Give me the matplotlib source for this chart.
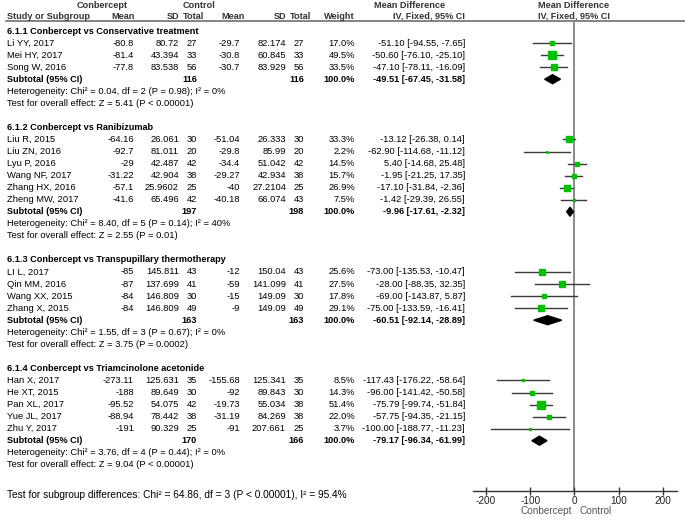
import matplotlib
matplotlib.use("Agg")

import matplotlib.pyplot as plt
from matplotlib.patches import Polygon

plt.rcParams["font.family"] = ["Liberation Sans", "DejaVu Sans"]

# Subgroups and studies
groups = [
    "6.1.1 Conbercept vs Conservative treatment",
    "6.1.2 Conbercept vs Ranibizumab",
    "6.1.3 Conbercept vs Transpupillary thermotherapy",
    "6.1.4 Conbercept vs Triamcinolone acetonide",
]

studies = [
    ["Li YY, 2017", "Mei HY, 2017", "Song W, 2016"],
    ["Liu R, 2015", "Liu ZN, 2016", "Lyu P, 2016", "Wang NF, 2017",
     "Zhang HX, 2016", "Zheng MW, 2017"],
    ["LI L, 2017", "Qin MM, 2016", "Wang XX, 2015", "Zhang X, 2015"],
    ["Han X, 2017", "He XT, 2015", "Pan XL, 2017", "Yue JL, 2017",
     "Zhu Y, 2017"],
]

exp_mean = [
    [-80.8, -81.4, -77.8],
    [-64.16, -92.7, -29, -31.22, -57.1, -41.6],
    [-85, -87, -84, -84],
    [-273.11, -188, -95.52, -88.94, -191],
]
exp_sd = [
    [80.72, 43.394, 83.538],
    [26.061, 81.011, 42.487, 42.904, 25.9602, 65.496],
    [145.811, 137.699, 146.809, 146.809],
    [125.631, 89.649, 54.075, 78.442, 90.329],
]
exp_n = [
    [27, 33, 56],
    [30, 20, 42, 38, 25, 42],
    [43, 41, 30, 49],
    [35, 30, 42, 38, 25],
]
ctl_mean = [
    [-29.7, -30.8, -30.7],
    [-51.04, -29.8, -34.4, -29.27, -40, -40.18],
    [-12, -59, -15, -9],
    [-155.68, -92, -19.73, -31.19, -91],
]
ctl_sd = [
    [82.174, 60.845, 83.929],
    [26.333, 85.99, 51.042, 42.934, 27.2104, 66.074],
    [150.04, 141.099, 149.09, 149.09],
    [125.341, 89.843, 55.034, 84.269, 207.661],
]
ctl_n = [
    [27, 33, 56],
    [30, 20, 42, 38, 25, 43],
    [43, 41, 30, 49],
    [35, 30, 38, 38, 25],
]
weights = [
    [17.0, 49.5, 33.5],
    [33.3, 2.2, 14.5, 15.7, 26.9, 7.5],
    [25.6, 27.5, 17.8, 29.1],
    [8.5, 14.3, 51.4, 22.0, 3.7],
]
md = [
    [-51.10, -50.60, -47.10],
    [-13.12, -62.90, 5.40, -1.95, -17.10, -1.42],
    [-73.00, -28.00, -69.00, -75.00],
    [-117.43, -96.00, -75.79, -57.75, -100.00],
]
md_lo = [
    [-94.55, -76.10, -78.11],
    [-26.38, -114.68, -14.68, -21.25, -31.84, -29.39],
    [-135.53, -88.35, -143.87, -133.59],
    [-176.22, -141.42, -99.74, -94.35, -188.77],
]
md_hi = [
    [-7.65, -25.10, -16.09],
    [0.14, -11.12, 25.48, 17.35, -2.36, 26.55],
    [-10.47, 32.35, 5.87, -16.41],
    [-58.64, -50.58, -51.84, -21.15, -11.23],
]

# Subtotals
sub_exp_n = [116, 197, 163, 170]
sub_ctl_n = [116, 198, 163, 166]
sub_md = [-49.51, -9.96, -60.51, -79.17]
sub_lo = [-67.45, -17.61, -92.14, -96.34]
sub_hi = [-31.58, -2.32, -28.89, -61.99]
heterogeneity = [
    "Heterogeneity: Chi\u00b2 = 0.04, df = 2 (P = 0.98); I\u00b2 = 0%",
    "Heterogeneity: Chi\u00b2 = 8.40, df = 5 (P = 0.14); I\u00b2 = 40%",
    "Heterogeneity: Chi\u00b2 = 1.55, df = 3 (P = 0.67); I\u00b2 = 0%",
    "Heterogeneity: Chi\u00b2 = 3.76, df = 4 (P = 0.44); I\u00b2 = 0%",
]
overall = [
    "Test for overall effect: Z = 5.41 (P < 0.00001)",
    "Test for overall effect: Z = 2.55 (P = 0.01)",
    "Test for overall effect: Z = 3.75 (P = 0.0002)",
    "Test for overall effect: Z = 9.04 (P < 0.00001)",
]
subgroup_test = ("Test for subgroup differences: Chi\u00b2 = 64.86, df = 3 "
                 "(P < 0.00001), I\u00b2 = 95.4%")

xticks = [-200, -100, 0, 100, 200]

# Layout (pixels)
W, H = 685, 522
Y0, ROW = 31, 12.05
FS = 6.75      # regular text
FSB = 6.6      # bold text
HEAD = "#333333"


def row_y(r):
    return Y0 + r * ROW


fig = plt.figure(figsize=(W / 100, H / 100), dpi=100)
tax = fig.add_axes([0, 0, 1, 1])
tax.set_xlim(0, W)
tax.set_ylim(H, 0)
tax.axis("off")

ax_left, ax_right, ax_top, ax_bot = 473, 677, 21, 490.7
fax = fig.add_axes([ax_left / W, 1 - ax_bot / H,
                    (ax_right - ax_left) / W, (ax_bot - ax_top) / H])
fax.set_xlim(-229.5, 232)
fax.set_ylim(ax_bot, ax_top)
fax.patch.set_alpha(0)
for s in ["top", "left", "right"]:
    fax.spines[s].set_visible(False)
fax.spines["bottom"].set_color("#333333")
fax.spines["bottom"].set_linewidth(1.0)
fax.set_yticks([])
fax.set_xticks(xticks)
fax.set_xticklabels([str(t) for t in xticks])
fax.tick_params(axis="x", direction="inout", length=6, width=1.0,
                color="#333333", labelsize=7.2, pad=1, labelcolor="#222222")
fax.axvline(0, color="#8a8a8a", lw=1.4, zorder=1)


def txt(x, y, s, ha="left", bold=False, color="black", size=None):
    if size is None:
        size = FSB if bold else FS
    tax.text(x, y, s, ha=ha, va="center", fontsize=size,
             fontweight="bold" if bold else "normal", color=color)


# Header
txt(102, 5, "Conbercept", ha="center", bold=True, color=HEAD)
txt(199, 5, "Control", ha="center", bold=True, color=HEAD)
txt(410, 5, "Mean Difference", ha="center", bold=True, color=HEAD)
txt(574, 5, "Mean Difference", ha="center", bold=True, color=HEAD)
hy = 16.5
txt(7, hy, "Study or Subgroup", bold=True, color=HEAD)
txt(135, hy, "Mean", ha="right", bold=True, color=HEAD)
txt(179, hy, "SD", ha="right", bold=True, color=HEAD)
txt(204, hy, "Total", ha="right", bold=True, color=HEAD)
txt(245, hy, "Mean", ha="right", bold=True, color=HEAD)
txt(286, hy, "SD", ha="right", bold=True, color=HEAD)
txt(311, hy, "Total", ha="right", bold=True, color=HEAD)
txt(355, hy, "Weight", ha="right", bold=True, color=HEAD)
txt(465, hy, "IV, Fixed, 95% CI", ha="right", bold=True, color=HEAD)
txt(574, hy, "IV, Fixed, 95% CI", ha="center", bold=True, color=HEAD)
tax.plot([6, W], [21, 21], color="#707070", lw=1.2)

r = 0
for g in range(len(groups)):
    txt(7, row_y(r), groups[g], bold=True)
    r += 1
    for i in range(len(studies[g])):
        y = row_y(r)
        txt(7, y, studies[g][i])
        txt(134, y, f"{exp_mean[g][i]:g}", ha="right")
        txt(179, y, f"{exp_sd[g][i]:g}", ha="right")
        txt(197, y, str(exp_n[g][i]), ha="right")
        txt(240, y, f"{ctl_mean[g][i]:g}", ha="right")
        txt(286, y, f"{ctl_sd[g][i]:g}", ha="right")
        txt(304, y, str(ctl_n[g][i]), ha="right")
        txt(355, y, f"{weights[g][i]:.1f}%", ha="right")
        txt(465, y, f"{md[g][i]:.2f} [{md_lo[g][i]:.2f}, {md_hi[g][i]:.2f}]",
            ha="right")
        fax.plot([md_lo[g][i], md_hi[g][i]], [y, y], color="#3a3a3a",
                 lw=1.0, zorder=2)
        fax.plot(md[g][i], y, marker="s", color="#00c000",
                 markersize=0.72 * weights[g][i] ** 0.5, zorder=3)
        r += 1
    y = row_y(r)
    txt(7, y, "Subtotal (95% CI)", bold=True)
    txt(197, y, str(sub_exp_n[g]), ha="right", bold=True)
    txt(304, y, str(sub_ctl_n[g]), ha="right", bold=True)
    txt(355, y, "100.0%", ha="right", bold=True)
    txt(465, y, f"{sub_md[g]:.2f} [{sub_lo[g]:.2f}, {sub_hi[g]:.2f}]",
        ha="right", bold=True)
    dh = 4.5
    fax.add_patch(Polygon([(sub_lo[g], y), (sub_md[g], y - dh),
                           (sub_hi[g], y), (sub_md[g], y + dh)],
                          closed=True, color="black", zorder=3))
    r += 1
    txt(7, row_y(r), heterogeneity[g])
    r += 1
    txt(7, row_y(r), overall[g])
    r += 2

txt(7, 495.5, subgroup_test, size=7.3)
txt(546, 511.5, "Conbercept", ha="center", color="#555555", size=7.2)
txt(596, 511.5, "Control", ha="center", color="#555555", size=7.2)

fig.savefig("out.png", dpi=100)
plt.close(fig)
